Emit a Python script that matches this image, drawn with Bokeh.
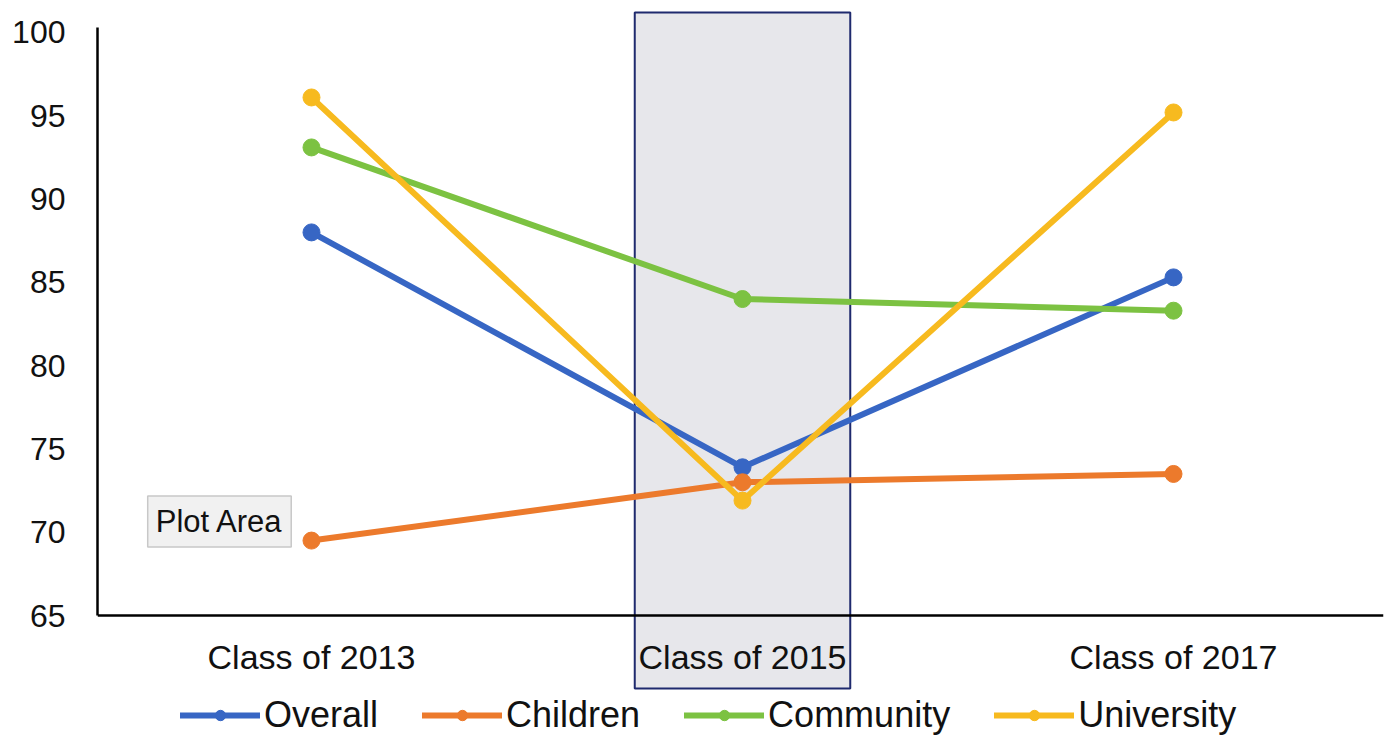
from bokeh.plotting import figure
from bokeh.models import (Range1d, FixedTicker, Legend, LegendItem, Label)
from bokeh.embed import file_html
from bokeh.resources import INLINE

# ---- data ----
categories = ["Class of 2013", "Class of 2015", "Class of 2017"]
overall = [88.0, 73.9, 85.3]
children = [69.5, 73.0, 73.5]
community = [93.1, 84.0, 83.3]
university = [96.1, 71.9, 95.2]
series_names = ["Overall", "Children", "Community", "University"]
series_values = [overall, children, community, university]
series_colors = ["#3766c4", "#ec7a2c", "#7cc242", "#f7ba1f"]
y_ticks = [65, 70, 75, 80, 85, 90, 95, 100]
highlight_index = 1

FONT = "Liberation Sans"
xs = list(range(len(categories)))

p = figure(width=1385, height=736, output_backend="svg", toolbar_location=None,
           x_range=Range1d(-0.4965, 2.4872), y_range=Range1d(57.74, 101.32),
           min_border_left=97, min_border_right=2, min_border_top=10,
           min_border_bottom=0)
p.outline_line_color = None
p.grid.visible = False
p.background_fill_color = "white"
p.border_fill_color = "white"

# highlighted category box
p.quad(left=highlight_index - 0.25, right=highlight_index + 0.25,
       bottom=60.62, top=101.2, fill_color="#e7e7eb",
       line_color="#1f2a6e", line_width=2)

# tooltip-like "Plot Area" label
p.add_layout(Label(x=-0.38, y=70.65, text="Plot Area", text_font=FONT,
                   text_font_size="31px", text_color="#111111",
                   text_baseline="middle", text_align="left",
                   background_fill_color="#f1f1f1", background_fill_alpha=1.0,
                   border_line_color="#c8c8c8", border_line_width=1.5,
                   padding=8))

items = []
for name, vals, col in zip(series_names, series_values, series_colors):
    ln = p.line(xs, vals, line_color=col, line_width=6, line_cap="round")
    sc = p.scatter(xs, vals, size=17, fill_color=col, line_color=col, line_width=1)
    items.append(LegendItem(label=name, renderers=[ln, sc]))

legend = Legend(items=items, orientation="horizontal", location=(83, 0),
                glyph_width=80, glyph_height=26, label_height=26,
                label_standoff=4, spacing=44, padding=0, margin=0,
                label_text_font=FONT, label_text_font_size="36px",
                label_text_color="#111111",
                border_line_color=None, background_fill_alpha=0)
p.add_layout(legend, "center")

# y axis
ya = p.yaxis[0]
ya.ticker = FixedTicker(ticks=y_ticks)
ya.bounds = (65, 100.3)
ya.axis_line_color = "black"
ya.axis_line_width = 2.5
ya.major_tick_line_color = None
ya.minor_tick_line_color = None
ya.major_tick_in = 0
ya.major_tick_out = 0
ya.major_label_standoff = 32
ya.major_label_text_font = FONT
ya.major_label_text_font_size = "32px"
ya.major_label_text_color = "#111111"

# x axis
xa = p.xaxis[0]
xa.fixed_location = 65
xa.ticker = FixedTicker(ticks=xs)
xa.major_label_overrides = {i: c for i, c in zip(xs, categories)}
xa.axis_line_color = "black"
xa.axis_line_width = 2.5
xa.major_tick_line_color = None
xa.minor_tick_line_color = None
xa.major_tick_in = 0
xa.major_tick_out = 0
xa.major_label_standoff = 22
xa.major_label_text_font = FONT
xa.major_label_text_font_size = "34px"
xa.major_label_text_color = "#111111"

open("out.html", "w").write(file_html(p, INLINE))
